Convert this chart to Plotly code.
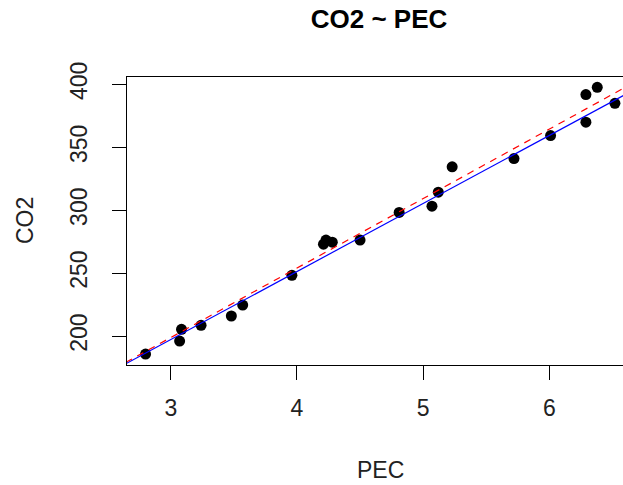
import plotly.graph_objects as go

# Data
pec = [2.80, 3.07, 3.085, 3.24, 3.48, 3.57, 3.96, 4.21, 4.23, 4.28, 4.50,
       4.81, 5.07, 5.12, 5.23, 5.72, 6.01, 6.29, 6.29, 6.38, 6.52]
co2 = [185.7, 196.0, 205.3, 208.5, 215.9, 224.6, 248.2, 273.0, 276.2, 274.6, 276.2,
       298.2, 303.2, 314.3, 334.4, 341.0, 359.3, 369.9, 391.8, 397.6, 384.9]

# fitted lines (intercept, slope)
fit_blue = [35.0, 54.06]
fit_red = [33.2, 55.2]

x_range = [2.653, 6.584]
y_range = [176.98, 405.8]

line_x = [x_range[0] - 0.1, x_range[1] + 0.1]

fig = go.Figure()
fig.add_trace(go.Scatter(
    x=pec, y=co2, mode="markers",
    marker=dict(color="black", size=11, line=dict(width=0)),
    showlegend=False, cliponaxis=True))
fig.add_trace(go.Scatter(
    x=line_x, y=[fit_blue[0] + fit_blue[1] * v for v in line_x], mode="lines",
    line=dict(color="blue", width=1.2), showlegend=False))
fig.add_trace(go.Scatter(
    x=line_x, y=[fit_red[0] + fit_red[1] * v for v in line_x], mode="lines",
    line=dict(color="red", width=1.2, dash="7px,6px"), showlegend=False))

font = "Liberation Sans, Arial, sans-serif"
fig.update_layout(
    width=623, height=485,
    margin=dict(l=127, r=0, t=77, b=120, pad=0),
    paper_bgcolor="white", plot_bgcolor="white",
    font=dict(family=font, size=23, color="#222"),
    title=dict(text="<b>CO2 ~ PEC</b>", x=379 / 623, xanchor="center",
               xref="container", yref="container", y=1 - 19 / 485, yanchor="middle",
               font=dict(size=26, color="black", family=font)),
    xaxis=dict(range=x_range, tickvals=[3, 4, 5, 6], ticktext=["3", "4", "5", "6"],
               showgrid=False, zeroline=False, showline=True, mirror=True,
               linecolor="black", linewidth=1, ticks="outside", ticklen=14,
               tickcolor="black", tickwidth=1, ticklabelstandoff=8),
    yaxis=dict(range=y_range, tickvals=[200, 250, 300, 350, 400],
               ticktext=["200", "250", "300", "350", "400"],
               showgrid=False, zeroline=False, showline=True, mirror=False,
               linecolor="black", linewidth=1, ticks="outside", ticklen=14,
               tickcolor="black", tickwidth=1, tickangle=-90, ticklabelstandoff=16),
    annotations=[
        dict(text="PEC", xref="paper", yref="paper", x=(380 - 127) / 496, y=0,
             yshift=-105, xanchor="center", yanchor="middle", showarrow=False,
             font=dict(size=23, family=font, color="#222")),
        dict(text="CO2", xref="paper", yref="paper", x=0, y=0.5, xshift=-102,
             textangle=-90, xanchor="center", yanchor="middle", showarrow=False,
             font=dict(size=23, family=font, color="#222")),
    ],
)

fig.write_html(
    "out.html",
    config={"displayModeBar": False},
    post_script="document.body.style.margin='0px';document.body.style.overflow='hidden';",
)
